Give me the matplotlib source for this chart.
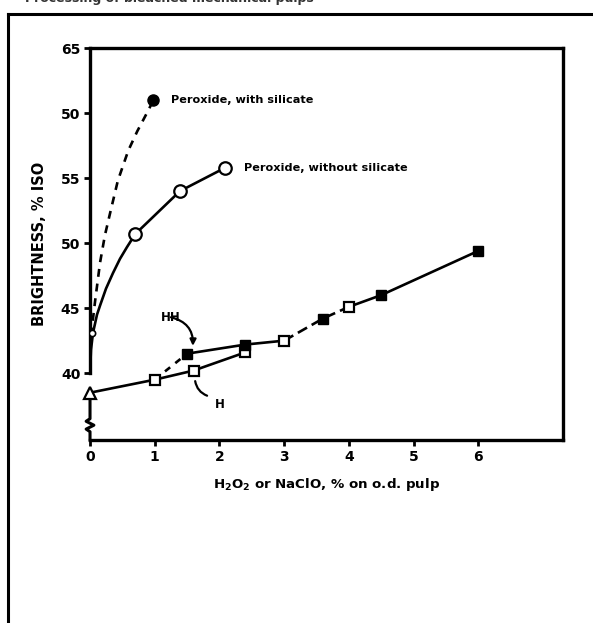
import numpy as np
import matplotlib.pyplot as plt

plt.rcParams['font.family'] = ['DejaVu Sans']
plt.rcParams['font.weight'] = 'bold'
plt.rcParams['mathtext.default'] = 'bf'

# Peroxide bleaching, with silicate (dashed curve, filled end point)
sil_x = [0.015, 0.08, 0.155, 0.23, 0.31, 0.43, 0.59, 0.73, 0.90, 0.98]
sil_y = [42.9, 45.6, 48.5, 50.6, 52.3, 54.8, 57.1, 58.6, 60.2, 61.0]

# Peroxide bleaching, without silicate (solid curve, open circles)
nosil_x = [0.0, 0.015, 0.046, 0.108, 0.155, 0.247, 0.355, 0.464, 0.572, 0.70, 1.39, 2.09]
nosil_y = [40.0, 41.8, 43.1, 44.5, 45.2, 46.5, 47.7, 48.8, 49.7, 50.7, 54.0, 55.8]
nosil_pts_x = [0.70, 1.39, 2.09]
nosil_pts_y = [50.7, 54.0, 55.8]

# Unbleached start point
start_x = [0.0]
start_y = [38.5]
start_small_x = [0.03]
start_small_y = [43.1]

# Hypochlorite, single stage (H, open squares)
h_x = [1.0, 1.6, 2.4, 3.0, 4.0]
h_y = [39.5, 40.2, 41.6, 42.5, 45.1]

# Hypochlorite, two stage (HH, filled squares)
hh_x = [1.5, 2.4, 3.6, 4.5, 6.0]
hh_y = [41.5, 42.2, 44.2, 46.0, 49.4]

y_ticks = [40, 45, 50, 55, 60, 65]
y_labels = ['40', '45', '50', '55', '50', '65']
x_ticks = [0, 1, 2, 3, 4, 5, 6]

fig = plt.figure(figsize=(5.93, 6.23), dpi=100)
ax = fig.add_axes([0.1518, 0.2937, 0.7976, 0.6292])
ax.set_xlim(0, 7.31)
ax.set_ylim(34.86, 65)

lw = 1.9
# peroxide curves
ax.plot(sil_x, sil_y, color='black', lw=lw, ls=(0, (3, 2.6)), zorder=2)
ax.plot(sil_x[-1:], sil_y[-1:], 'o', color='black', ms=8, zorder=4)
ax.plot(nosil_x, nosil_y, color='black', lw=lw, zorder=2)
ax.plot(nosil_pts_x, nosil_pts_y, 'o', mfc='white', mec='black', mew=1.6, ms=9, zorder=4)
ax.plot(start_small_x, start_small_y, 'o', mfc='white', mec='black', mew=1.2, ms=4.5, zorder=4)

# hypochlorite lines
ax.plot([start_x[0]] + h_x[:3], [start_y[0]] + h_y[:3], color='black', lw=lw, zorder=2)
ax.plot([h_x[0], hh_x[0]], [h_y[0], hh_y[0]], color='black', lw=lw, ls=(0, (2.5, 2.5)), zorder=2)
ax.plot([hh_x[0], hh_x[1], h_x[3]], [hh_y[0], hh_y[1], h_y[3]], color='black', lw=lw, zorder=2)
ax.plot([h_x[3], hh_x[2], h_x[4]], [h_y[3], hh_y[2], h_y[4]], color='black', lw=lw, ls=(0, (4, 2)), zorder=2)
ax.plot([h_x[4], hh_x[3], hh_x[4]], [h_y[4], hh_y[3], hh_y[4]], color='black', lw=lw, zorder=2)

ax.plot(h_x, h_y, 's', mfc='white', mec='black', mew=1.6, ms=7.5, zorder=4)
ax.plot(hh_x, hh_y, 's', color='black', ms=7.5, zorder=4)
ax.plot(start_x, start_y, '^', mfc='white', mec='black', mew=1.6, ms=8.5, zorder=5, clip_on=False)

# series labels
ax.text(1.25, 61.0, 'Peroxide, with silicate', fontsize=8.1, fontweight='bold', va='center')
ax.text(2.38, 55.8, 'Peroxide, without silicate', fontsize=8.1, fontweight='bold', va='center')

ax.annotate('HH', xy=(1.59, 42.1), xytext=(1.25, 44.3), fontsize=8.5, fontweight='bold',
            ha='center', va='center',
            arrowprops=dict(arrowstyle='-|>', color='black', lw=1.6,
                            shrinkA=0, shrinkB=0, mutation_scale=9,
                            connectionstyle='arc3,rad=-0.4',
                            patchA=None), annotation_clip=False)
ax.annotate('', xy=(1.62, 39.6), xytext=(1.85, 38.2),
            arrowprops=dict(arrowstyle='-', color='black', lw=1.6,
                            connectionstyle='arc3,rad=-0.35'))
ax.text(2.0, 37.6, 'H', fontsize=8.5, fontweight='bold', ha='center', va='center')

# spines and ticks
for side in ['top', 'right', 'bottom', 'left']:
    ax.spines[side].set_linewidth(2.4)
ax.spines['left'].set_bounds(40, 65)
ax.plot([0, 0, -0.06, 0.06, -0.06, 0, 0],
        [38.2, 36.5, 36.3, 36.0, 35.7, 35.5, 34.86],
        color='black', lw=2.2, clip_on=False, zorder=3)

ax.set_yticks(y_ticks)
ax.set_yticklabels(y_labels)
ax.set_xticks(x_ticks)
ax.tick_params(axis='both', direction='out', length=4, width=2, labelsize=10, pad=3)
for lab in ax.get_xticklabels() + ax.get_yticklabels():
    lab.set_fontweight('bold')

ax.set_xlabel(r'H$_2$O$_2$ or NaClO, % on o.d. pulp', fontsize=9.6, fontweight='bold', labelpad=9)
ax.set_ylabel('BRIGHTNESS, % ISO', fontsize=10.5, fontweight='bold', labelpad=10)

# page frame and clipped caption
fig.add_artist(plt.Line2D([8 / 593, 8 / 593], [0, 1 - 14 / 623], color='black', lw=2.2))
fig.add_artist(plt.Line2D([8 / 593, 1], [1 - 14 / 623, 1 - 14 / 623], color='black', lw=2.2))
fig.text(25 / 593, 1.002, 'Processing of bleached mechanical pulps', fontsize=9,
         fontweight='bold', va='center', color='#333333')

fig.savefig('out.png', dpi=100)
